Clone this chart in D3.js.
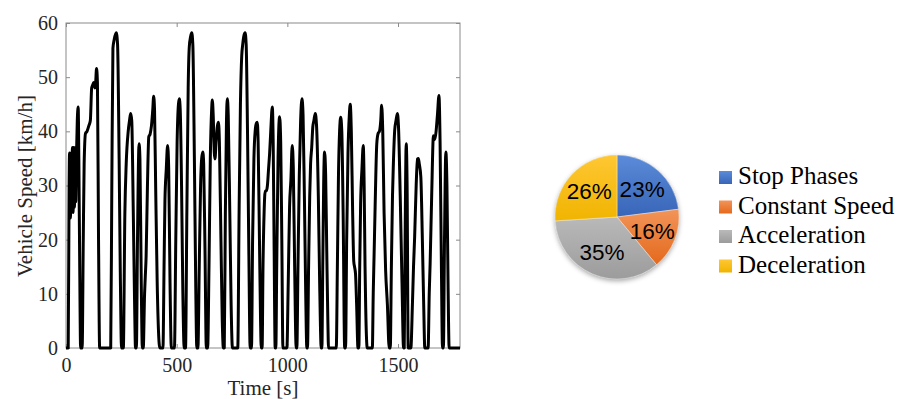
<!DOCTYPE html>
<html>
<head>
<meta charset="utf-8">
<script src="https://cdn.jsdelivr.net/npm/d3@7"></script>
<style>
  html, body { margin: 0; padding: 0; background: #fff; }
  svg { display: block; }
</style>
</head>
<body>
<svg id="chart" width="900" height="399"></svg>
<script>
// drive cycle
const timeS = [0, 10, 14, 16, 18, 20, 23, 26, 29, 32, 35, 38, 42, 44, 47, 51, 55, 58, 62, 66,
  73, 78, 82, 88, 95, 103, 110, 116, 120, 125, 131, 134, 138, 142, 147, 152,
  202, 207, 212, 218, 227, 233, 240, 245, 251,
  259, 266, 272, 281, 287, 292, 297, 304, 310, 314,
  318, 323, 330, 334, 340, 345,
  349, 355, 358, 362, 368, 374, 380, 386, 392, 396, 400, 405, 412, 424,
  438, 443, 447, 453, 459, 464, 470, 476,
  490, 496, 502, 508, 512, 516, 522, 528, 534,
  540, 546, 552, 557, 563, 568, 573, 580, 586, 591,
  596, 602, 608, 613, 618, 622, 628, 634,
  640, 646, 652, 658, 661, 665, 670, 673, 678, 684, 689, 693, 700, 706, 711,
  715, 720, 725, 729, 733, 740, 746, 752,
  776, 782, 788, 794, 798, 803, 809, 814, 820, 826, 832,
  838, 843, 849, 855, 860, 864, 868, 874, 879, 882,
  886, 890, 895, 900, 905, 910, 915, 920, 925, 932, 936, 940, 945,
  948, 952, 958, 965, 970, 975, 980,
  998, 1004, 1010, 1016, 1022, 1027, 1033, 1040,
  1043, 1048, 1054, 1060, 1066, 1071, 1077, 1083, 1088,
  1091, 1096, 1101, 1105, 1110, 1115, 1120, 1126, 1132, 1140, 1146, 1153,
  1156, 1160, 1164, 1168, 1173, 1178, 1183, 1186,
  1221, 1226, 1231, 1236, 1241, 1246, 1252, 1259,
  1263, 1268, 1274, 1280, 1284, 1289, 1295, 1300, 1304, 1308, 1313, 1319,
  1323, 1327, 1331, 1337, 1343, 1347, 1351, 1354, 1361,
  1384, 1388, 1392, 1396, 1404, 1410, 1416, 1422, 1426, 1431, 1437, 1444, 1452, 1460,
  1465, 1470, 1475, 1479, 1485, 1491, 1497, 1502, 1510, 1518, 1525,
  1528, 1532, 1537, 1541, 1546,
  1558, 1565, 1570, 1575, 1582, 1588, 1592, 1596, 1603, 1610, 1616, 1621,
  1636, 1641, 1645, 1652, 1660, 1666, 1672, 1678, 1685, 1690, 1696, 1701,
  1705, 1710, 1716, 1721, 1726, 1731, 1780];

const speedKmh = [0, 0, 30, 36, 30, 24, 36, 26, 37, 25, 37, 26, 37, 27, 35, 42, 44.5, 35, 15, 0,
  0, 20, 34, 39.6, 40, 41, 42, 48, 48.5, 49, 48, 49, 51.6, 49, 20, 0,
  0, 30, 55.3, 57, 58.2, 56, 35, 15, 0,
  0, 25, 34, 40, 42, 43.3, 42, 25, 8, 0,
  0, 20, 37.7, 35, 12, 0,
  0, 10, 13, 17, 30, 39, 39.5, 41, 44, 46.5, 44, 30, 12, 0,
  0, 15, 27.2, 33, 37.4, 33, 12, 0,
  0, 20, 38, 45, 46, 44, 30, 10, 0,
  0, 25, 48, 55.6, 57.5, 58.2, 56, 35, 12, 0,
  0, 15, 30, 35, 36.2, 34, 18, 0,
  0, 15, 35, 44, 45.8, 43, 36, 34.9, 38, 41, 41.7, 38, 20, 5, 0,
  0, 25, 42, 46, 43, 25, 8, 0,
  0, 25, 45, 54, 55.9, 57.5, 58.2, 56, 40, 18, 0,
  0, 20, 35, 40.2, 41.5, 41.7, 38, 20, 5, 0,
  0, 15, 25, 29, 29, 30, 33, 36, 40, 44.5, 38, 20, 0,
  0, 15, 35, 42.7, 38, 20, 0,
  0, 12, 26, 31, 37.4, 33, 15, 0,
  0, 15, 32, 42, 46, 43, 28, 10, 0,
  0, 15, 28, 34, 37, 40.8, 42, 43.3, 41, 28, 12, 0,
  0, 15, 30, 36.2, 32, 18, 5, 0,
  0, 15, 32, 40, 42.6, 40, 25, 0,
  0, 20, 36, 43, 45, 40, 25, 16, 14.9, 13.7, 8, 0,
  0, 15, 26.6, 33, 37.4, 30, 15, 7.5, 0,
  0, 10, 17.4, 25, 37.7, 39.6, 40, 42, 44.8, 40, 25, 14.3, 8, 0,
  0, 15, 28, 34, 40.2, 42, 43.3, 41, 28, 12, 0,
  0, 20, 37.7, 30, 0,
  0, 8, 15, 20.4, 30, 34.9, 35, 34, 31.6, 20, 8, 0,
  0, 10, 15.5, 28, 39.2, 38.5, 40, 43, 46.6, 38, 15, 0,
  0, 20, 36.2, 30, 12, 0, 0];

const xTicks = [0, 500, 1000, 1500];
const yTicks = [0, 10, 20, 30, 40, 50, 60];

// pie: share of driving phases
const phaseNames = ['Stop Phases', 'Constant Speed', 'Acceleration', 'Deceleration'];
const phaseShares = [23, 16, 35, 26];
const phaseTop = ['#5b8bd9', '#f29459', '#b9b9b9', '#ffc733'];
const phaseBottom = ['#3865b8', '#e4691c', '#9c9c9c', '#f0b400'];

const svg = d3.select('#chart');
const defs = svg.append('defs');
const serif = '"Liberation Serif", "Times New Roman", serif';

// ---- line chart ----
const x = d3.scaleLinear().domain([0, 1780]).range([66, 460]);
const y = d3.scaleLinear().domain([0, 60]).range([348, 23]);

const plot = svg.append('g');

plot.append('rect')
    .attr('x', x.range()[0])
    .attr('y', y.range()[1])
    .attr('width', x.range()[1] - x.range()[0])
    .attr('height', y.range()[0] - y.range()[1])
    .style('fill', 'none')
    .style('stroke', '#8a8a8a')
    .style('stroke-width', 1);

const xAxis = plot.append('g')
    .attr('transform', 'translate(0,' + y.range()[0] + ')')
    .call(d3.axisBottom(x).tickValues(xTicks).tickSize(-4).tickPadding(10).tickFormat(d3.format('d')));
const xAxisTop = plot.append('g')
    .attr('transform', 'translate(0,' + y.range()[1] + ')')
    .call(d3.axisTop(x).tickValues(xTicks).tickSize(-4).tickFormat(''));
const yAxis = plot.append('g')
    .attr('transform', 'translate(' + x.range()[0] + ',0)')
    .call(d3.axisLeft(y).tickValues(yTicks).tickSize(-4).tickPadding(8));
const yAxisRight = plot.append('g')
    .attr('transform', 'translate(' + x.range()[1] + ',0)')
    .call(d3.axisRight(y).tickValues(yTicks).tickSize(-4).tickFormat(''));

[xAxis, xAxisTop, yAxis, yAxisRight].forEach(function (a) {
    a.select('.domain').remove();
    a.selectAll('line').style('stroke', '#8a8a8a');
    a.selectAll('text')
        .style('font-family', serif)
        .style('font-size', '20px')
        .style('fill', '#262626');
});
xAxis.selectAll('text').attr('dy', '0.71em');

const speedLine = d3.line()
    .x(function (d, i) { return x(timeS[i]); })
    .y(function (d) { return y(d); })
    .curve(d3.curveMonotoneX);

plot.append('path')
    .datum(speedKmh)
    .attr('d', speedLine)
    .style('fill', 'none')
    .style('stroke', '#000')
    .style('stroke-width', 3)
    .style('stroke-linejoin', 'round');

plot.append('text')
    .attr('x', (x.range()[0] + x.range()[1]) / 2)
    .attr('y', 395)
    .attr('text-anchor', 'middle')
    .style('font-family', serif)
    .style('font-size', '21px')
    .style('fill', '#262626')
    .text('Time [s]');

plot.append('text')
    .attr('transform', 'translate(32,186) rotate(-90)')
    .attr('text-anchor', 'middle')
    .style('font-family', serif)
    .style('font-size', '21px')
    .style('fill', '#262626')
    .text('Vehicle Speed [km/h]');

// ---- pie ----
const cx = 617, cy = 217, radius = 62;

phaseNames.forEach(function (n, i) {
    const g = defs.append('linearGradient')
        .attr('id', 'grad' + i)
        .attr('x1', 0).attr('y1', 0).attr('x2', 0).attr('y2', 1);
    g.append('stop').attr('offset', '0%').attr('stop-color', phaseTop[i]);
    g.append('stop').attr('offset', '100%').attr('stop-color', phaseBottom[i]);
});

const shadow = defs.append('filter')
    .attr('id', 'shadow')
    .attr('x', '-20%').attr('y', '-20%').attr('width', '140%').attr('height', '150%');
shadow.append('feDropShadow')
    .attr('dx', 0).attr('dy', 2).attr('stdDeviation', 2.5)
    .attr('flood-color', '#000').attr('flood-opacity', 0.35);

const pie = d3.pie().sort(null)(phaseShares);
const arc = d3.arc().innerRadius(0).outerRadius(radius);
const labelArc = d3.arc().innerRadius(38).outerRadius(38);

const pieG = svg.append('g')
    .attr('transform', 'translate(' + cx + ',' + cy + ')');

pieG.append('circle')
    .attr('r', radius)
    .style('fill', '#aaa')
    .attr('filter', 'url(#shadow)');

pieG.selectAll('path.slice')
    .data(pie)
    .enter()
    .append('path')
    .attr('class', 'slice')
    .attr('d', arc)
    .style('fill', function (d, i) { return 'url(#grad' + i + ')'; })
    .style('stroke', '#fff')
    .style('stroke-width', 0.4);

pieG.selectAll('text.pct')
    .data(pie)
    .enter()
    .append('text')
    .attr('class', 'pct')
    .attr('transform', function (d) { return 'translate(' + labelArc.centroid(d) + ')'; })
    .attr('text-anchor', 'middle')
    .attr('dy', '0.36em')
    .style('font-family', '"Liberation Sans", Arial, sans-serif')
    .style('font-size', '22.5px')
    .style('fill', '#000')
    .text(function (d) { return d.data + '%'; });

// ---- legend ----
const legend = svg.append('g');
const rows = legend.selectAll('g')
    .data(phaseNames)
    .enter()
    .append('g')
    .attr('transform', function (d, i) { return 'translate(719,' + (184 + i * 29.5) + ')'; });

rows.append('rect')
    .attr('x', 0)
    .attr('y', -13)
    .attr('width', 13)
    .attr('height', 13)
    .style('fill', function (d, i) { return 'url(#grad' + i + ')'; });

rows.append('text')
    .attr('x', 19)
    .attr('y', 0)
    .style('font-family', serif)
    .style('font-size', '25px')
    .style('fill', '#000')
    .text(function (d) { return d; });
</script>
</body>
</html>
